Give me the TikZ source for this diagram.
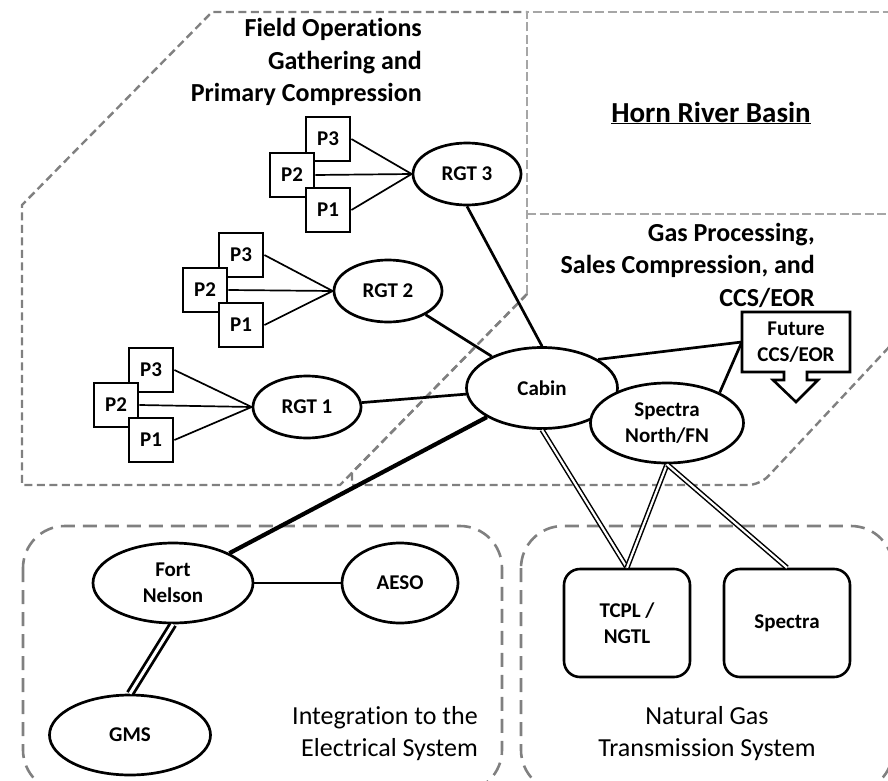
\documentclass[tikz,border=0pt]{standalone}
\usepackage{fontspec}
\setmainfont{Carlito}[Ligatures=NoCommon]
\usetikzlibrary{shapes.geometric}
\definecolor{dgray}{HTML}{808080}
\definecolor{lgray}{HTML}{A6A6A6}
\newcommand\nodefont{\fontsize{21}{26}\selectfont\bfseries}
\newcommand\hdfont{\fontsize{26}{32.5}\selectfont\bfseries}
\newcommand\rgfont{\fontsize{26}{32}\selectfont}
\begin{document}
\begin{tikzpicture}[x=1pt,y=-1pt,
  zone/.style={draw=dgray, line width=2.4pt, dash pattern=on 8pt off 4.5pt},
  lzone/.style={draw=lgray, line width=2.2pt, dash pattern=on 9pt off 3.5pt},
  rzone/.style={draw=dgray, line width=2.6pt, dash pattern=on 14pt off 8pt, rounded corners=42pt},
  ell/.style={ellipse, draw, fill=white, line width=2.7pt, inner sep=0pt, align=center, font=\nodefont},
  rgt/.style={ell, minimum width=108pt, minimum height=62pt},
  pbox/.style={rectangle, draw, fill=white, line width=2.8pt, minimum size=44pt, inner sep=0pt, font=\nodefont},
  tbox/.style={rectangle, rounded corners=16pt, draw, fill=white, line width=2.6pt, minimum width=126pt, minimum height=108pt, align=center, font=\nodefont},
  pline/.style={line width=1.7pt},
  rline/.style={line width=2.7pt},
  cline/.style={line width=4.2pt},
  pipe/.style={double, line width=1.5pt, double distance=2.2pt},
  hvpipe/.style={double, line width=2.8pt, double distance=3pt},
  lbl/.style={inner sep=0pt}
]
\useasboundingbox (0,0) rectangle (888,781);
\clip (0,0) rectangle (888,781);

% regions
\draw[zone] (527,294) -- (340,485) -- (22,485) -- (22,205) -- (212,12) -- (527,12);
\draw[zone] (527,294) -- (352,472.7) -- (352,485) -- (500,485) [rounded corners=12pt] -- (760,485) -- (905,330);
\draw[lzone] (527,294) -- (527,12) -- (905,12);
\draw[lzone] (527,214) -- (905,214);
\draw[rzone] (23,526) rectangle (502,792);
\draw[rzone] (521,526) rectangle (893,792);

% headings
\node[lbl, anchor=east, align=right, font=\hdfont] (hd1) at (422,62) {Field Operations\\Gathering and\\Primary Compression};
\node[lbl, font=\fontsize{29}{34}\selectfont\bfseries] (horn) at (711,113) {\underline{Horn River Basin}};
\node[lbl, anchor=east, align=right, font=\hdfont] (hd2) at (815,265) {Gas Processing,\\Sales Compression, and\\CCS/EOR};
\node[lbl, anchor=east, align=right, font=\rgfont] (hd3) at (478,734) {Integration to the\\Electrical System};
\node[lbl, align=center, font=\rgfont] (hd4) at (707,734) {Natural Gas\\Transmission System};

% field groups
\node[pbox] (g3p3) at (328,139) {P3};
\node[pbox] (g3p2) at (292,175) {P2};
\node[pbox] (g3p1) at (328,210) {P1};
\node[rgt] (rgt3) at (467,174) {RGT 3};

\node[pbox] (g2p3) at (241,255) {P3};
\node[pbox] (g2p2) at (205,290) {P2};
\node[pbox] (g2p1) at (241,325) {P1};
\node[rgt] (rgt2) at (388,291) {RGT 2};

\node[pbox] (g1p3) at (151,370) {P3};
\node[pbox] (g1p2) at (116,405) {P2};
\node[pbox] (g1p1) at (151,440) {P1};
\node[rgt] (rgt1) at (307,407) {RGT 1};

% processing
\node[ell, minimum width=151pt, minimum height=81pt] (cabin) at (542,388) {Cabin};
\node[ell, minimum width=153pt, minimum height=80pt] (spn) at (667,423) {Spectra\\North/FN};
\draw[line width=2.6pt, line join=miter, fill=white] (742,312) -- (850,312) -- (850,372) -- (807,372) -- (807,380) -- (818,380) -- (796,402) -- (773,380) -- (784,380) -- (784,372) -- (742,372) -- cycle;
\node[lbl, align=center, font=\nodefont, minimum width=108pt, minimum height=60pt] (fut) at (796,342) {Future\\CCS/EOR};

% electrical
\node[ell, minimum width=160pt, minimum height=80pt] (fn) at (173,583) {Fort\\Nelson};
\node[ell, minimum width=116pt, minimum height=80pt] (aeso) at (400,583) {AESO};
\node[ell, minimum width=161pt, minimum height=80pt] (gms) at (130,735) {GMS};

% transmission
\node[tbox] (tcpl) at (627,623) {TCPL /\\NGTL};
\node[tbox] (spectra) at (787,623) {Spectra};

% connectors
\foreach \g/\r in {g3/rgt3, g2/rgt2, g1/rgt1}{
  \draw[pline] (\g p3.east) -- (\r.west);
  \draw[pline] (\g p2.east) -- (\r.west);
  \draw[pline] (\g p1.east) -- (\r.west);
}
\draw[rline] (rgt3.south) -- (cabin.north);
\draw[rline] (rgt2) -- (cabin);
\draw[rline] (rgt1) -- (cabin);
\draw[rline] (cabin.27) -- (fut.west);
\draw[rline] (spn.30) -- (fut.west);
\draw[cline] (cabin) -- (fn);
\draw[rline] (fn) -- (aeso);
\draw[hvpipe] (fn.south) -- (gms.north);
\draw[pipe] (cabin.south) -- (tcpl.north);
\draw[pipe] (spn.south) -- (tcpl.north);
\draw[pipe] (spn.south) -- (spectra.north);
\end{tikzpicture}
\end{document}
